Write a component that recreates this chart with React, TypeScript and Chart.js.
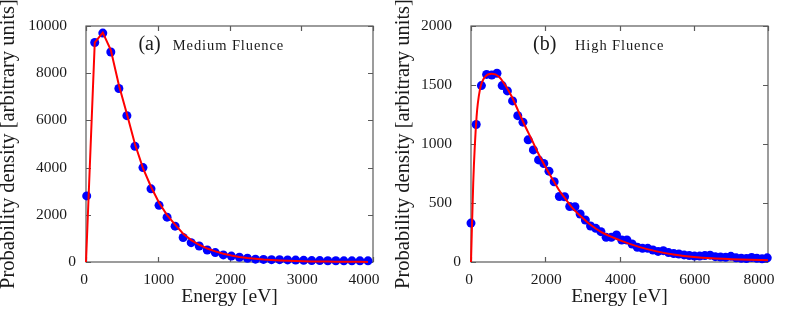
import React, { useEffect, useRef } from "react";
import { Chart, registerables } from "chart.js";

Chart.register(...registerables);

// ---------- Data ----------
// Panel (a): Medium Fluence
const energyA = [10, 122, 234, 346, 458, 570, 682, 794, 906, 1018, 1130, 1242, 1354, 1466, 1578, 1690, 1802, 1914, 2026, 2138, 2250, 2362, 2474, 2586, 2698, 2810, 2922, 3034, 3146, 3258, 3370, 3482, 3594, 3706, 3818, 3930];
const densityA = [2800, 9300, 9700, 8900, 7350, 6200, 4900, 4000, 3100, 2400, 1900, 1520, 1040, 820, 680, 510, 400, 300, 250, 200, 160, 120, 110, 100, 100, 90, 80, 70, 60, 60, 55, 55, 50, 50, 50, 50];
const fitEnergyA = [0, 122, 234, 346, 458, 570, 682, 794, 906, 1018, 1130, 1242, 1354, 1466, 1578, 1690, 1802, 1914, 2026, 2138, 2250, 2362, 2474, 2586, 2698, 2810, 2922, 3034, 3146, 3258, 3370, 3482, 3594, 3706, 3818, 3930];
const fitDensityA = [0, 9300, 9720, 8980, 7500, 6270, 5000, 3980, 3190, 2510, 1990, 1580, 1200, 930, 730, 570, 450, 350, 275, 215, 170, 135, 105, 85, 65, 52, 41, 32, 25, 20, 16, 12, 10, 8, 6, 5];
const xTicksA = [0, 1000, 2000, 3000, 4000];
const yTicksA = [0, 2000, 4000, 6000, 8000, 10000];

// Panel (b): High Fluence
const energyB = [0, 140, 280, 420, 560, 700, 840, 980, 1120, 1260, 1400, 1540, 1680, 1820, 1960, 2100, 2240, 2380, 2520, 2660, 2800, 2940, 3080, 3220, 3360, 3500, 3640, 3780, 3920, 4060, 4200, 4340, 4480, 4620, 4760, 4900, 5040, 5180, 5320, 5460, 5600, 5740, 5880, 6020, 6160, 6300, 6440, 6580, 6720, 6860, 7000, 7140, 7280, 7420, 7560, 7700, 7840, 7980];
const densityB = [330, 1165, 1495, 1590, 1585, 1600, 1495, 1450, 1365, 1240, 1185, 1035, 950, 865, 835, 770, 680, 555, 553, 470, 468, 407, 356, 305, 285, 257, 209, 209, 229, 186, 186, 153, 125, 116, 116, 102, 90, 96, 80, 72, 68, 60, 55, 50, 50, 55, 58, 45, 42, 40, 48, 35, 32, 30, 38, 32, 28, 35];
const fitEnergyB = [0, 60, 150, 240, 380, 560, 740, 920, 1100, 1280, 1460, 1640, 1820, 2000, 2180, 2360, 2520, 2700, 3000, 3200, 3500, 4000, 4500, 5000, 5500, 6000, 6500, 7000, 7500, 8000];
const fitDensityB = [0, 670, 1230, 1460, 1570, 1595, 1575, 1500, 1400, 1275, 1150, 1035, 915, 810, 710, 615, 545, 470, 375, 320, 255, 185, 130, 90, 62, 43, 31, 24, 19, 15];
const xTicksB = [0, 2000, 4000, 6000, 8000];
const yTicksB = [0, 500, 1000, 1500, 2000];

const xTitle = "Energy [eV]";
const yTitle = "Probability density [arbitrary units]";

// ---------- Styling ----------
const FONT = '"Liberation Serif", "Times New Roman", serif';
const TEXT = "#1a1a1a";
const FRAME = "#5a5a5a";

const framePlugin = {
  id: "frame",
  beforeDatasetsDraw(chart: any, _args: any, opts: any) {
    const { ctx, chartArea: a } = chart;
    const xs = chart.scales.x;
    const ys = chart.scales.y;
    ctx.save();
    ctx.strokeStyle = FRAME;
    ctx.lineWidth = 1.2;
    ctx.strokeRect(a.left, a.top, a.right - a.left, a.bottom - a.top);
    const L = 5;
    ctx.beginPath();
    for (const v of opts.xTicks) {
      const px = Math.round(xs.getPixelForValue(v)) + 0.5;
      ctx.moveTo(px, a.bottom);
      ctx.lineTo(px, a.bottom - L);
      ctx.moveTo(px, a.top);
      ctx.lineTo(px, a.top + L);
    }
    for (const v of opts.yTicks) {
      const py = Math.round(ys.getPixelForValue(v)) + 0.5;
      ctx.moveTo(a.left, py);
      ctx.lineTo(a.left + L, py);
      ctx.moveTo(a.right, py);
      ctx.lineTo(a.right - L, py);
    }
    ctx.stroke();
    ctx.restore();
  },
  afterDraw(chart: any, _args: any, opts: any) {
    const { ctx, chartArea: a } = chart;
    const xs = chart.scales.x;
    const ys = chart.scales.y;
    ctx.save();
    ctx.fillStyle = TEXT;
    // tick labels
    ctx.font = `15.5px ${FONT}`;
    ctx.textBaseline = "middle";
    ctx.textAlign = "right";
    for (const v of opts.yTicks) {
      const py = ys.getPixelForValue(v);
      const gap = v === 0 ? 10 : 19;
      ctx.fillText(String(v), a.left - gap, py);
    }
    ctx.textAlign = "center";
    const nx = opts.xTicks.length;
    opts.xTicks.forEach((v: number, i: number) => {
      const px = xs.getPixelForValue(v);
      const off = i === 0 ? -2 : i === nx - 1 ? -9 : 1;
      ctx.fillText(String(v), px + off, a.bottom + 18);
    });
    // axis titles
    ctx.font = `19.5px ${FONT}`;
    ctx.textBaseline = "alphabetic";
    ctx.textAlign = "center";
    ctx.fillText(opts.xTitle, (a.left + a.right) / 2, a.bottom + 40);
    ctx.save();
    ctx.font = `20.5px ${FONT}`;
    ctx.translate(14, (a.top + a.bottom) / 2);
    ctx.rotate(-Math.PI / 2);
    ctx.fillText(opts.yTitle, 0, 0);
    ctx.restore();
    // panel annotation
    ctx.textAlign = "left";
    ctx.font = `20px ${FONT}`;
    ctx.fillText(opts.tag, xs.getPixelForValue(opts.tagX), ys.getPixelForValue(opts.tagY));
    ctx.font = `14.5px ${FONT}`;
    (ctx as any).letterSpacing = "0.9px";
    ctx.fillText(opts.label, xs.getPixelForValue(opts.labelX), ys.getPixelForValue(opts.tagY));
    (ctx as any).letterSpacing = "0px";
    ctx.restore();
  },
};

type PanelCfg = {
  energy: number[];
  density: number[];
  fitEnergy: number[];
  fitDensity: number[];
  xMax: number;
  yMax: number;
  xTicks: number[];
  yTicks: number[];
  padLeft: number;
  smooth: boolean;
  tag: string;
  label: string;
  tagX: number;
  tagY: number;
  labelX: number;
};

function Panel({ cfg }: { cfg: PanelCfg }) {
  const ref = useRef<HTMLCanvasElement | null>(null);
  useEffect(() => {
    if (!ref.current) return;
    const chart = new Chart(ref.current, {
      type: "scatter",
      data: {
        datasets: [
          {
            label: "fit",
            data: cfg.fitEnergy.map((x, i) => ({ x, y: cfg.fitDensity[i] })),
            showLine: true,
            borderColor: "#ff0000",
            borderWidth: 2,
            pointRadius: 0,
            tension: cfg.smooth ? 0.4 : 0,
            cubicInterpolationMode: cfg.smooth ? "monotone" : "default",
            clip: false,
          } as any,
          {
            label: "data",
            data: cfg.energy.map((x, i) => ({ x, y: cfg.density[i] })),
            pointRadius: 4.5,
            pointBackgroundColor: "#0000ff",
            pointBorderWidth: 0,
            backgroundColor: "#0000ff",
            borderColor: "#0000ff",
            clip: false,
          } as any,
        ],
      },
      options: {
        animation: false,
        responsive: false,
        devicePixelRatio: 1,
        events: [],
        layout: { padding: { left: cfg.padLeft, right: 22, top: 26, bottom: 51 } },
        scales: {
          x: { type: "linear", min: 0, max: cfg.xMax, display: false },
          y: { type: "linear", min: 0, max: cfg.yMax, display: false },
        },
        plugins: {
          legend: { display: false },
          tooltip: { enabled: false },
          frame: {
            xTicks: cfg.xTicks,
            yTicks: cfg.yTicks,
            xTitle,
            yTitle,
            tag: cfg.tag,
            label: cfg.label,
            tagX: cfg.tagX,
            tagY: cfg.tagY,
            labelX: cfg.labelX,
          },
        } as any,
      },
      plugins: [framePlugin],
    });
    return () => chart.destroy();
  }, [cfg]);
  return <canvas ref={ref} width={395} height={313} style={{ display: "block", width: 395, height: 313 }} />;
}

const cfgA: PanelCfg = {
  energy: energyA,
  density: densityA,
  fitEnergy: fitEnergyA,
  fitDensity: fitDensityA,
  xMax: 4000,
  yMax: 10000,
  xTicks: xTicksA,
  yTicks: yTicksA,
  padLeft: 86,
  smooth: false,
  tag: "(a)",
  label: "Medium Fluence",
  tagX: 730,
  tagY: 9000,
  labelX: 1210,
};

const cfgB: PanelCfg = {
  energy: energyB,
  density: densityB,
  fitEnergy: fitEnergyB,
  fitDensity: fitDensityB,
  xMax: 8000,
  yMax: 2000,
  xTicks: xTicksB,
  yTicks: yTicksB,
  padLeft: 76,
  smooth: true,
  tag: "(b)",
  label: "High Fluence",
  tagX: 1670,
  tagY: 1800,
  labelX: 2800,
};

export default function App() {
  return (
    <div style={{ position: "absolute", left: 0, top: 0, width: 790, height: 313, display: "flex", background: "#fff" }}>
      <Panel cfg={cfgA} />
      <Panel cfg={cfgB} />
    </div>
  );
}
